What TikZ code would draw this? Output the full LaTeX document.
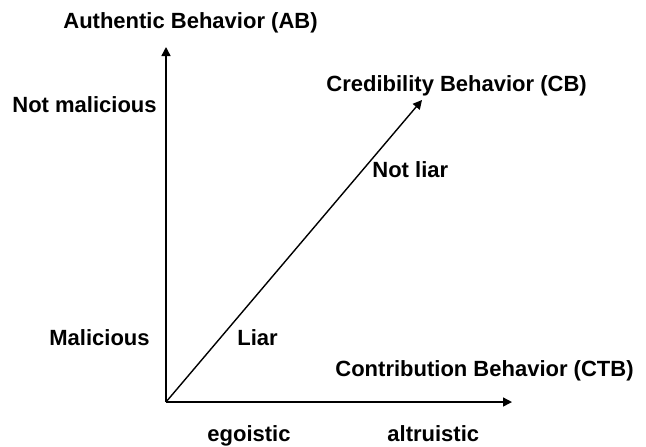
\documentclass[tikz,border=0pt]{standalone}
\usepackage{fontspec}
\setmainfont{Liberation Sans}
\usetikzlibrary{arrows.meta}
\tikzset{
  axis/.style={line width=0.7pt,-{Triangle[length=4.5pt,width=4.5pt]}},
  lbl/.style={anchor=base west,inner sep=0pt,font=\fontsize{11}{13}\selectfont\bfseries},
}

\begin{document}
\begin{tikzpicture}[x=0.5pt,y=-0.5pt]
\useasboundingbox (0,0) rectangle (646,446);
% axes
\coordinate (o) at (166,402);
\coordinate (ab) at (166,47);
\coordinate (ctb) at (512,402);
\coordinate (cb) at (422,100);
\draw[axis] (o) -- (ab);
\draw[axis] (o) -- (ctb);
\draw[axis] (o) -- (cb);
% axis names
\node[lbl] (abname) at (63,28) {Authentic Behavior (AB)};
\node[lbl] (cbname) at (326,91) {Credibility Behavior (CB)};
\node[lbl] (ctbname) at (335,376) {Contribution Behavior (CTB)};
% values along the axes
\node[lbl] (notmal) at (12,112) {Not malicious};
\node[lbl] (mal) at (49,345) {Malicious};
\node[lbl] (notliar) at (372,177) {Not liar};
\node[lbl] (liar) at (237,345) {Liar};
\node[lbl] (ego) at (207,441) {egoistic};
\node[lbl] (alt) at (387,441) {altruistic};
\end{tikzpicture}
\end{document}
